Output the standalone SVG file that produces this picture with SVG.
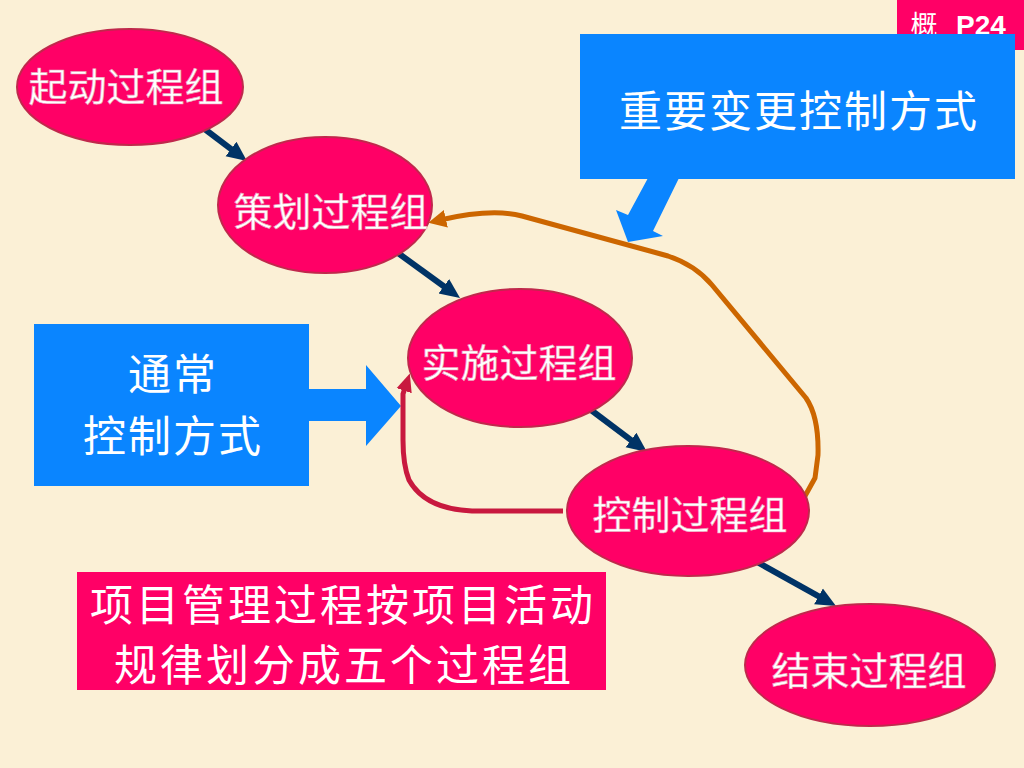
<svg xmlns="http://www.w3.org/2000/svg" width="1024" height="768" viewBox="0 0 1024 768">
<defs>
<style>
.node{fill:#FF0066;stroke:#C0284C;stroke-width:2}
.nt{font-family:"Noto Sans CJK SC","Noto Sans",sans-serif;font-size:39px;fill:#fff;stroke:#E8A0B8;stroke-width:0.6;text-anchor:middle}
.bt{font-family:"Noto Sans CJK SC","Noto Sans",sans-serif;font-size:43px;letter-spacing:2px;fill:#fff;text-anchor:middle}
.nav{fill:none;stroke:#003366;stroke-width:6}
</style>
<marker id="mn" markerUnits="userSpaceOnUse" markerWidth="22" markerHeight="20" viewBox="0 0 22 20" refX="8" refY="10" orient="auto">
<path d="M0,1 L20,10 L0,19 z" fill="#003366"/>
</marker>
<marker id="mo" markerUnits="userSpaceOnUse" markerWidth="22" markerHeight="20" viewBox="0 0 22 20" refX="6" refY="10" orient="auto">
<path d="M0,1 L18,10 L0,19 z" fill="#CC6600"/>
</marker>
<marker id="mr" markerUnits="userSpaceOnUse" markerWidth="22" markerHeight="20" viewBox="0 0 22 20" refX="6" refY="10" orient="auto">
<path d="M0,2 L18,10 L0,18 z" fill="#C8193F"/>
</marker>
</defs>
<rect x="0" y="0" width="1024" height="768" fill="#FBF0D6"/>

<g id="tag">
<rect x="897" y="0" width="127" height="50" fill="#FF0066"/>
<text x="924" y="35" font-family="Noto Sans CJK SC,sans-serif" font-size="27" fill="#fff" text-anchor="middle">概</text>
<text x="981" y="35" font-family="Liberation Sans,Arial,sans-serif" font-size="28" font-weight="bold" fill="#fff" text-anchor="middle">P24</text>
</g>

<g id="callout-major">
<rect x="580" y="34" width="435" height="145" fill="#0A85FF"/>
<polygon points="648,178 679,178 653,231 663,236 628,242 616,210 628,215" fill="#0A85FF"/>
<text class="bt" x="799" y="127">重要变更控制方式</text>
</g>

<g id="callout-normal">
<rect x="34" y="324" width="275" height="162" fill="#0A85FF"/>
<polygon points="308,389 366,389 366,365 401,406 366,446 366,421 308,421" fill="#0A85FF"/>
<text class="bt" x="173" y="390">通常</text>
<text class="bt" x="173" y="452">控制方式</text>
</g>

<g id="note">
<rect x="77" y="572" width="529" height="118" fill="#FF0066"/>
<text class="bt" x="343" y="621" font-size="41" style="letter-spacing:3px">项目管理过程按项目活动</text>
<text class="bt" x="344" y="681" font-size="41" style="letter-spacing:3px">规律划分成五个过程组</text>
</g>

<g id="connectors">
<line class="nav" x1="202" y1="127" x2="237.4" y2="153.8" marker-end="url(#mn)"/>
<line class="nav" x1="398" y1="253" x2="450.3" y2="291" marker-end="url(#mn)"/>
<line class="nav" x1="587" y1="407" x2="637.4" y2="444.8" marker-end="url(#mn)"/>
<line class="nav" x1="757" y1="562" x2="825.5" y2="600.2" marker-end="url(#mn)"/>
<path d="M 563 511 L 472 511 Q 425 509 409 480 Q 403 465 403 440 L 403 394 L 406 385" fill="none" stroke="#C8193F" stroke-width="5" marker-end="url(#mr)"/>
<path d="M 800 505 L 815 478 L 818 455 Q 819 417 806 398 L 712 285 Q 695 265 668 256 L 522 216 Q 492 208 440 220" fill="none" stroke="#CC6600" stroke-width="5" stroke-linejoin="round" marker-end="url(#mo)"/>
</g>

<g id="n-start">
<ellipse class="node" cx="130" cy="87" rx="113" ry="58"/>
<text class="nt" x="126" y="101">起动过程组</text>
</g>
<g id="n-plan">
<ellipse class="node" cx="325" cy="205" rx="107" ry="68"/>
<text class="nt" x="331" y="226">策划过程组</text>
</g>
<g id="n-exec">
<ellipse class="node" cx="520" cy="358" rx="112" ry="69"/>
<text class="nt" x="519" y="377">实施过程组</text>
</g>
<g id="n-ctrl">
<ellipse class="node" cx="688" cy="511" rx="121" ry="65"/>
<text class="nt" x="690" y="529">控制过程组</text>
</g>
<g id="n-close">
<ellipse class="node" cx="870" cy="665" rx="125" ry="61"/>
<text class="nt" x="869" y="685">结束过程组</text>
</g>
</svg>
